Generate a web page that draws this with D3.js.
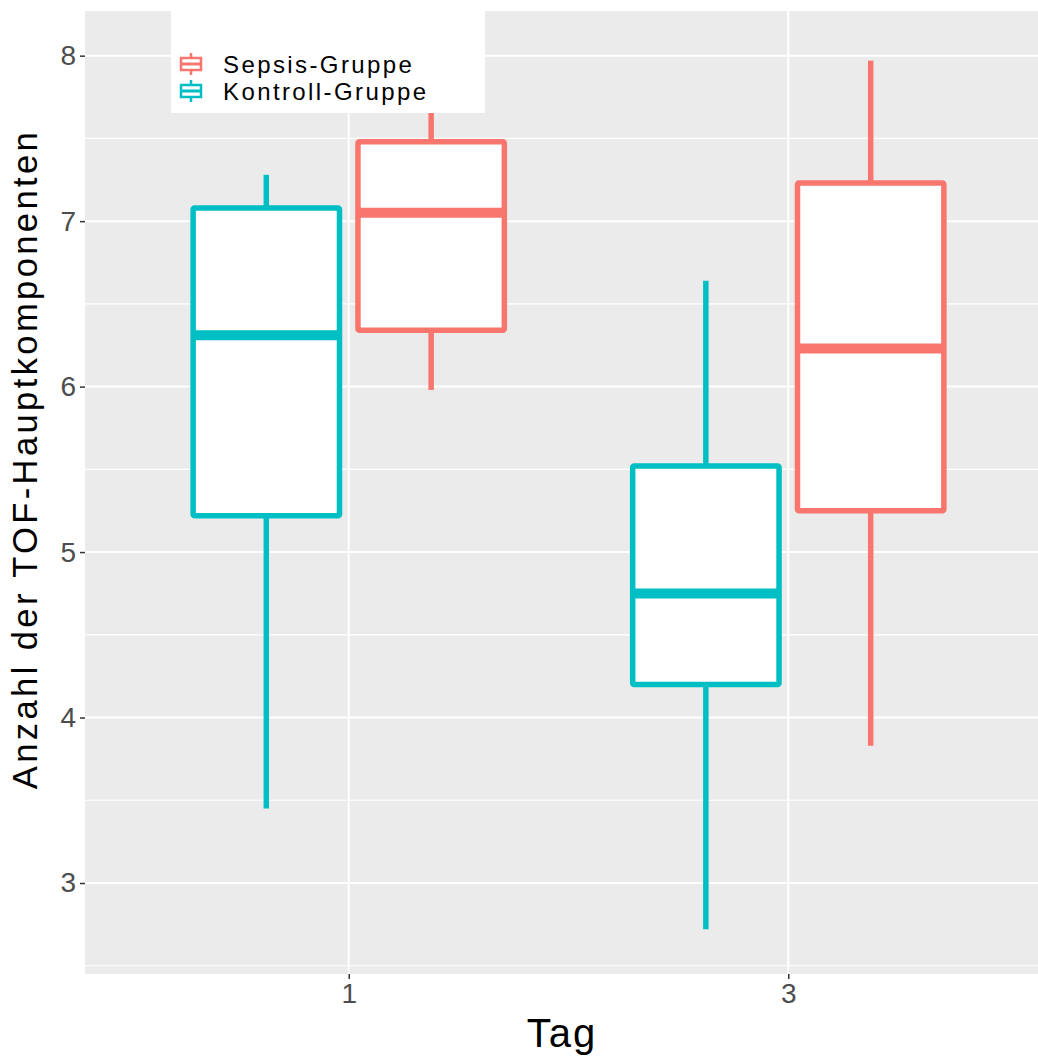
<!DOCTYPE html>
<html>
<head>
<meta charset="utf-8">
<script src="https://cdn.jsdelivr.net/npm/d3@7"></script>
<style>
  html, body { margin: 0; padding: 0; background: #fff; }
  svg { display: block; font-family: "Liberation Sans", Arial, sans-serif; }
</style>
</head>
<body>
<svg id="chart" width="1038" height="1057"></svg>
<script>
// Data: one box per Tag and group
const days = ["1", "3"];
const groups = ["Kontroll-Gruppe", "Sepsis-Gruppe"];
const legendOrder = ["Sepsis-Gruppe", "Kontroll-Gruppe"];
const colors = { "Sepsis-Gruppe": "#F8766D", "Kontroll-Gruppe": "#00BFC4" };

const boxTag = ["1", "1", "3", "3"];
const boxGroup = ["Kontroll-Gruppe", "Sepsis-Gruppe", "Kontroll-Gruppe", "Sepsis-Gruppe"];
const whiskerLow = [3.45, 5.98, 2.72, 3.83];
const q1 = [5.22, 6.34, 4.20, 5.25];
const median = [6.31, 7.05, 4.75, 6.23];
const q3 = [7.08, 7.48, 5.52, 7.23];
const whiskerHigh = [7.28, 7.80, 6.64, 7.97];

const yTicks = [3, 4, 5, 6, 7, 8];
const yMinor = [2.5, 3.5, 4.5, 5.5, 6.5, 7.5];

const boxes = boxTag.map((t, i) => ({
    tag: t, group: boxGroup[i],
    lo: whiskerLow[i], q1: q1[i], med: median[i], q3: q3[i], hi: whiskerHigh[i]
}));

const svg = d3.select("#chart");
const panel = { left: 85, right: 1038, top: 11, bottom: 974 };

// Scales
const x = d3.scalePoint().domain(days).range([panel.left, 1052]).padding(0.6);
const step = x.step();
const dodge = d3.scalePoint().domain(groups).range([-0.1875 * step, 0.1875 * step]);
const boxW = 0.333 * step;
const y = d3.scaleLinear().domain([2.45, 8.27]).range([panel.bottom, panel.top]);

// Panel background
svg.append("rect")
    .attr("x", panel.left).attr("y", panel.top)
    .attr("width", panel.right - panel.left).attr("height", panel.bottom - panel.top)
    .attr("fill", "#EBEBEB");

// Grid
const grid = svg.append("g");
grid.selectAll(".minor").data(yMinor).join("line")
    .attr("x1", panel.left).attr("x2", panel.right)
    .attr("y1", d => y(d)).attr("y2", d => y(d))
    .attr("stroke", "#fff").attr("stroke-width", 1.2);
grid.selectAll(".major").data(yTicks).join("line")
    .attr("x1", panel.left).attr("x2", panel.right)
    .attr("y1", d => y(d)).attr("y2", d => y(d))
    .attr("stroke", "#fff").attr("stroke-width", 2);
grid.selectAll(".vmajor").data(days).join("line")
    .attr("x1", d => x(d)).attr("x2", d => x(d))
    .attr("y1", panel.top).attr("y2", panel.bottom)
    .attr("stroke", "#fff").attr("stroke-width", 2);

// Boxplots
const bx = d => x(d.tag) + dodge(d.group);
const bg = svg.append("g").selectAll("g").data(boxes).join("g");
bg.append("line")
    .attr("x1", bx).attr("x2", bx)
    .attr("y1", d => y(d.hi)).attr("y2", d => y(d.q3))
    .attr("stroke", d => colors[d.group]).attr("stroke-width", 5.5);
bg.append("line")
    .attr("x1", bx).attr("x2", bx)
    .attr("y1", d => y(d.q1)).attr("y2", d => y(d.lo))
    .attr("stroke", d => colors[d.group]).attr("stroke-width", 5.5);
bg.append("rect")
    .attr("x", d => bx(d) - boxW / 2).attr("width", boxW)
    .attr("y", d => y(d.q3)).attr("height", d => y(d.q1) - y(d.q3))
    .attr("fill", "#fff")
    .attr("stroke", d => colors[d.group]).attr("stroke-width", 5.5)
    .attr("rx", 1.5);
bg.append("line")
    .attr("x1", d => bx(d) - boxW / 2).attr("x2", d => bx(d) + boxW / 2)
    .attr("y1", d => y(d.med)).attr("y2", d => y(d.med))
    .attr("stroke", d => colors[d.group]).attr("stroke-width", 10);

// Axes
const yAxis = svg.append("g")
    .attr("transform", `translate(${panel.left},0)`)
    .call(d3.axisLeft(y).tickValues(yTicks).tickSize(5).tickPadding(4).tickFormat(d3.format("d")));
yAxis.select(".domain").remove();
yAxis.selectAll(".tick line").attr("stroke", "#333").attr("stroke-width", 1.5);
yAxis.selectAll(".tick text").attr("fill", "#4D4D4D")
    .style("font-size", "28px").style("font-family", "Liberation Sans, Arial, sans-serif");

const xAxis = svg.append("g")
    .attr("transform", `translate(0,${panel.bottom})`)
    .call(d3.axisBottom(x).tickSize(5).tickPadding(4));
xAxis.select(".domain").remove();
xAxis.selectAll(".tick line").attr("stroke", "#333").attr("stroke-width", 1.5);
xAxis.selectAll(".tick text").attr("fill", "#4D4D4D")
    .style("font-size", "28px").style("font-family", "Liberation Sans, Arial, sans-serif");

// Axis titles
svg.append("text")
    .attr("x", 562).attr("y", 1047)
    .attr("text-anchor", "middle")
    .style("font-size", "40px").style("letter-spacing", "2px")
    .text("Tag");
svg.append("text")
    .attr("transform", "translate(37,459) rotate(-90)")
    .attr("text-anchor", "middle")
    .style("font-size", "34.5px").style("letter-spacing", "3.4px")
    .text("Anzahl der TOF-Hauptkomponenten");

// Legend
const legend = svg.append("g");
legend.append("rect")
    .attr("x", 171).attr("y", 11).attr("width", 314).attr("height", 102)
    .attr("fill", "#fff");
const li = legend.selectAll(".item").data(legendOrder).join("g")
    .attr("transform", (d, i) => `translate(191,${64 + i * 27})`);
li.append("line")
    .attr("x1", 0).attr("x2", 0).attr("y1", -11).attr("y2", 11)
    .attr("stroke", d => colors[d]).attr("stroke-width", 2.5);
li.append("rect")
    .attr("x", -10).attr("y", -6).attr("width", 20).attr("height", 12)
    .attr("fill", "#fff").attr("stroke", d => colors[d]).attr("stroke-width", 2.5);
li.append("line")
    .attr("x1", -10).attr("x2", 10).attr("y1", 0).attr("y2", 0)
    .attr("stroke", d => colors[d]).attr("stroke-width", 3);
li.append("text")
    .attr("x", 32).attr("y", 9)
    .style("font-size", "24px").style("letter-spacing", "2.4px")
    .text(d => d);
</script>
</body>
</html>
